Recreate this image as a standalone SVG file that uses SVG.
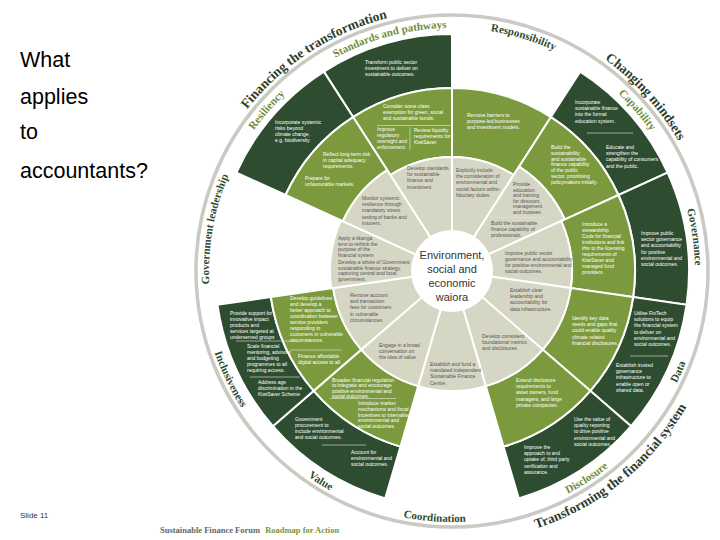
<svg xmlns="http://www.w3.org/2000/svg" width="720" height="540" viewBox="0 0 720 540">
<style>
.light{fill:#d5d6c3;stroke:#fff;stroke-width:2}
.med{fill:#7b9a3d;stroke:#fff;stroke-width:2}
.dark{fill:#2e4c2f;stroke:#fff;stroke-width:2}
.lt{font-family:"Liberation Sans",Arial,sans-serif;font-size:5px;fill:#555}
.wt{font-family:"Liberation Sans",Arial,sans-serif;font-size:5px;fill:#fff}
.div{stroke:#e4e8d6;stroke-width:0.6;fill:none}
.sl{font-family:"Liberation Serif","Times New Roman",serif;font-weight:bold;font-size:11px}
.sd{fill:#2e4c2f}
.so{fill:#6f8d3a}
.big{font-family:"Liberation Serif","Times New Roman",serif;font-weight:bold;font-size:13.5px;fill:#2b3d2c}
.side{font-family:"Liberation Sans",Arial,sans-serif;font-size:21.5px;fill:#000}
.ctr{font-family:"Liberation Sans",Arial,sans-serif;font-size:11px;fill:#333;text-anchor:middle}
</style>
<defs>
<path id="pStd" d="M252.93,131.62 A243,243 0 0 1 554.69,50.77"/>
<path id="pResp" d="M357.06,47.32 A243,243 0 0 1 655.80,138.66"/>
<path id="pCap" d="M490.01,30.99 A243,243 0 0 1 694.95,266.75"/>
<path id="pGov" d="M614.59,90.43 A243,243 0 0 1 658.06,399.77"/>
<path id="pGL" d="M241.56,392.5 A243,243 0 0 1 295.80,84.86"/>
<path id="pRes" d="M209.05,266.75 A243,243 0 0 1 413.99,30.99"/>
<path id="pData" d="M562.04,496.60 A251,251 0 0 0 693.29,201.82"/>
<path id="pDisc" d="M421.40,520.12 A251,251 0 0 0 692.03,344.39"/>
<path id="pCoord" d="M277.63,451.54 A251,251 0 0 0 599.54,474.06"/>
<path id="pVal" d="M213.27,348.56 A251,251 0 0 0 486.94,519.57"/>
<path id="pInc" d="M208.45,210.28 A251,251 0 0 0 349.92,500.29"/>
<path id="pFin" d="M191.37,284.65 A261,261 0 0 1 570.49,38.45"/>
<path id="pChg" d="M488.33,12.53 A261,261 0 0 1 712.84,261.89"/>
<path id="pTrf" d="M400.29,537.01 A271,271 0 0 0 722.95,275.74"/>
</defs>
<rect width="720" height="540" fill="#fff"/>

<g id="side-text">
<text class="side" x="20" y="67">What</text>
<text class="side" x="20" y="104">applies</text>
<text class="side" x="20" y="139">to</text>
<text class="side" x="20" y="178">accountants?</text>
<text x="20" y="518" style="font-family:'Liberation Sans',Arial,sans-serif;font-size:8px;fill:#333">Slide 11</text>
<text x="160" y="533" style="font-family:'Liberation Serif',serif;font-size:8.5px;font-weight:bold"><tspan fill="#666">Sustainable Finance Forum</tspan><tspan fill="#7a9540" dx="5">Roadmap for Action</tspan></text>
</g>

<circle cx="452" cy="271" r="256" fill="none" stroke="#cacac2" stroke-width="3.5"/>

<g id="titles">
<text class="big"><textPath href="#pFin" startOffset="50%" text-anchor="middle">Financing the transformation</textPath></text>
<text class="big"><textPath href="#pChg" startOffset="50%" text-anchor="middle">Changing mindsets</textPath></text>
<text class="big"><textPath href="#pTrf" startOffset="50%" text-anchor="middle">Transforming the financial system</textPath></text>
</g>

<g id="standards">
<path class="dark" d="M323.88,71.61 A237,237 0 0 1 452,34 L452,88 A183,183 0 0 0 353.07,117.04 Z"/>
<path class="med" d="M353.07,117.04 A183,183 0 0 1 452,88 L452,157 A114,114 0 0 0 390.37,175.09 Z"/>
<path class="light" d="M390.37,175.09 A114,114 0 0 1 452,157 L452,231 A40,40 0 0 0 430.38,237.35 Z"/>
<line class="div" x1="377" y1="125.5" x2="451" y2="125.5"/>
<line class="div" x1="410" y1="127" x2="410" y2="150"/>
<text class="sl so"><textPath href="#pStd" startOffset="50%" text-anchor="middle">Standards and pathways</textPath></text>
<text class="wt" x="365" y="64"><tspan x="365">Transform public sector</tspan><tspan x="365" dy="6.2">investment to deliver on</tspan><tspan x="365" dy="6.2">sustainable outcomes.</tspan></text>
<text class="wt" x="383" y="108"><tspan x="383">Consider some class</tspan><tspan x="383" dy="6.2">exemption for green, social</tspan><tspan x="383" dy="6.2">and sustainable bonds.</tspan></text>
<text class="wt" x="377" y="131"><tspan x="377">Improve</tspan><tspan x="377" dy="6">regulatory</tspan><tspan x="377" dy="6">oversight and</tspan><tspan x="377" dy="6">enforcement.</tspan></text>
<text class="wt" x="414" y="132"><tspan x="414">Review liquidity</tspan><tspan x="414" dy="6">requirements for</tspan><tspan x="414" dy="6">KiwiSaver.</tspan></text>
<text class="lt" x="407" y="170"><tspan x="407">Develop standards</tspan><tspan x="407" dy="6.2">for sustainable</tspan><tspan x="407" dy="6.2">finance and</tspan><tspan x="407" dy="6.2">investment.</tspan></text>
</g>

<g id="responsibility">
<path class="med" d="M452,88 A183,183 0 0 1 550.93,117.04 L513.63,175.09 A114,114 0 0 0 452,157 Z"/>
<path class="light" d="M452,157 A114,114 0 0 1 513.63,175.09 L473.62,237.35 A40,40 0 0 0 452,231 Z"/>
<text class="sl sd"><textPath href="#pResp" startOffset="50%" text-anchor="middle">Responsibility</textPath></text>
<text class="wt" x="467" y="117"><tspan x="467">Remove barriers to</tspan><tspan x="467" dy="6.2">purpose-led businesses</tspan><tspan x="467" dy="6.2">and investment models.</tspan></text>
<text class="lt" x="456" y="172"><tspan x="456">Explicitly include</tspan><tspan x="456" dy="6.2">the consideration of</tspan><tspan x="456" dy="6.2">environmental and</tspan><tspan x="456" dy="6.2">social factors within</tspan><tspan x="456" dy="6.2">fiduciary duties.</tspan></text>
</g>

<g id="capability">
<path class="dark" d="M580.12,71.61 A237,237 0 0 1 667.58,172.55 L618.46,194.98 A183,183 0 0 0 550.93,117.04 Z"/>
<path class="med" d="M550.93,117.04 A183,183 0 0 1 618.46,194.98 L564.79,219.49 A124,124 0 0 0 519.03,166.68 Z"/>
<path class="light" d="M519.03,166.68 A124,124 0 0 1 564.79,219.49 L488.38,254.38 A40,40 0 0 0 473.62,237.35 Z"/>
<line class="div" x1="488" y1="217.5" x2="546" y2="217.5"/>
<line class="div" x1="587" y1="133" x2="633" y2="133"/>
<text class="sl so"><textPath href="#pCap" startOffset="50%" text-anchor="middle">Capability</textPath></text>
<text class="lt" x="513" y="186"><tspan x="513">Provide</tspan><tspan x="513" dy="5.6">education</tspan><tspan x="513" dy="5.6">and training</tspan><tspan x="513" dy="5.6">for directors,</tspan><tspan x="513" dy="5.6">management</tspan><tspan x="513" dy="5.6">and trustees.</tspan></text>
<text class="lt" x="491" y="225"><tspan x="491">Build the sustainable</tspan><tspan x="491" dy="6.2">finance capability of</tspan><tspan x="491" dy="6.2">professionals.</tspan></text>
<text class="wt" x="551" y="149"><tspan x="551">Build the</tspan><tspan x="551" dy="5.8">sustainability</tspan><tspan x="551" dy="5.8">and sustainable</tspan><tspan x="551" dy="5.8">finance capability</tspan><tspan x="551" dy="5.8">of the public</tspan><tspan x="551" dy="5.8">sector, prioritising</tspan><tspan x="551" dy="5.8">policymakers initially.</tspan></text>
<text class="wt" x="575" y="104"><tspan x="575">Incorporate</tspan><tspan x="575" dy="6.2">sustainable finance</tspan><tspan x="575" dy="6.2">into the formal</tspan><tspan x="575" dy="6.2">education system.</tspan></text>
<text class="wt" x="606" y="149"><tspan x="606">Educate and</tspan><tspan x="606" dy="6.2">strengthen the</tspan><tspan x="606" dy="6.2">capability of consumers</tspan><tspan x="606" dy="6.2">and the public.</tspan></text>
</g>

<g id="governance">
<path class="dark" d="M667.58,172.55 A237,237 0 0 1 686.58,304.73 L633.13,297.04 A183,183 0 0 0 618.46,194.98 Z"/>
<path class="med" d="M618.46,194.98 A183,183 0 0 1 633.13,297.04 L570.78,288.08 A120,120 0 0 0 561.15,221.15 Z"/>
<path class="light" d="M561.15,221.15 A120,120 0 0 1 570.78,288.08 L491.59,276.69 A40,40 0 0 0 488.38,254.38 Z"/>
<text class="sl sd"><textPath href="#pGov" startOffset="50%" text-anchor="middle">Governance</textPath></text>
<text class="lt" x="505" y="255"><tspan x="505">Improve public sector</tspan><tspan x="505" dy="6">governance and accountability</tspan><tspan x="505" dy="6">for positive environmental and</tspan><tspan x="505" dy="6">social outcomes.</tspan></text>
<text class="wt" x="582" y="226"><tspan x="582">Introduce a</tspan><tspan x="582" dy="6">stewardship</tspan><tspan x="582" dy="6">Code for financial</tspan><tspan x="582" dy="6">institutions and link</tspan><tspan x="582" dy="6">this to the licensing</tspan><tspan x="582" dy="6">requirements of</tspan><tspan x="582" dy="6">KiwiSaver and</tspan><tspan x="582" dy="6">managed fund</tspan><tspan x="582" dy="6">providers.</tspan></text>
<text class="wt" x="641" y="235"><tspan x="641">Improve public</tspan><tspan x="641" dy="6.2">sector governance</tspan><tspan x="641" dy="6.2">and accountability</tspan><tspan x="641" dy="6.2">for positive</tspan><tspan x="641" dy="6.2">environmental and</tspan><tspan x="641" dy="6.2">social outcomes.</tspan></text>
</g>

<g id="data">
<path class="dark" d="M686.58,304.73 A237,237 0 0 1 631.10,426.21 L590.29,390.85 A183,183 0 0 0 633.13,297.04 Z"/>
<path class="med" d="M633.13,297.04 A183,183 0 0 1 590.29,390.85 L542.68,349.59 A120,120 0 0 0 570.78,288.08 Z"/>
<path class="light" d="M570.78,288.08 A120,120 0 0 1 542.68,349.59 L482.23,297.20 A40,40 0 0 0 491.59,276.69 Z"/>
<line class="div" x1="630" y1="356" x2="668" y2="356"/>
<text class="sl sd"><textPath href="#pData" startOffset="50%" text-anchor="middle">Data</textPath></text>
<text class="lt" x="510" y="292"><tspan x="510">Establish clear</tspan><tspan x="510" dy="6.2">leadership and</tspan><tspan x="510" dy="6.2">accountability for</tspan><tspan x="510" dy="6.2">data infrastructure.</tspan></text>
<text class="wt" x="572" y="320"><tspan x="572">Identify key data</tspan><tspan x="572" dy="6.2">needs and gaps that</tspan><tspan x="572" dy="6.2">could enable quality</tspan><tspan x="572" dy="6.2">climate related</tspan><tspan x="572" dy="6.2">financial disclosures.</tspan></text>
<text class="wt" x="634" y="315"><tspan x="634">Utilise FinTech</tspan><tspan x="634" dy="6.2">solutions to equip</tspan><tspan x="634" dy="6.2">the financial system</tspan><tspan x="634" dy="6.2">to deliver on</tspan><tspan x="634" dy="6.2">environmental and</tspan><tspan x="634" dy="6.2">social outcomes.</tspan></text>
<text class="wt" x="616" y="367"><tspan x="616">Establish trusted</tspan><tspan x="616" dy="6.2">governance</tspan><tspan x="616" dy="6.2">infrastructure to</tspan><tspan x="616" dy="6.2">enable open or</tspan><tspan x="616" dy="6.2">shared data.</tspan></text>
</g>

<g id="disclosure">
<path class="dark" d="M631.10,426.21 A237,237 0 0 1 518.76,498.40 L503.55,446.59 A183,183 0 0 0 590.29,390.85 Z"/>
<path class="med" d="M590.29,390.85 A183,183 0 0 1 503.55,446.59 L485.80,386.14 A120,120 0 0 0 542.68,349.59 Z"/>
<path class="light" d="M542.68,349.59 A120,120 0 0 1 485.80,386.14 L463.27,309.38 A40,40 0 0 0 482.23,297.20 Z"/>
<text class="sl so"><textPath href="#pDisc" startOffset="50%" text-anchor="middle">Disclosure</textPath></text>
<text class="lt" x="482" y="338"><tspan x="482">Develop consistent</tspan><tspan x="482" dy="6.2">foundational metrics</tspan><tspan x="482" dy="6.2">and disclosures.</tspan></text>
<text class="wt" x="516" y="382"><tspan x="516">Extend disclosure</tspan><tspan x="516" dy="6.2">requirements to</tspan><tspan x="516" dy="6.2">asset owners, fund</tspan><tspan x="516" dy="6.2">managers, and large</tspan><tspan x="516" dy="6.2">private companies.</tspan></text>
<text class="wt" x="574" y="421"><tspan x="574">Use the value of</tspan><tspan x="574" dy="6.2">quality reporting</tspan><tspan x="574" dy="6.2">to drive positive</tspan><tspan x="574" dy="6.2">environmental and</tspan><tspan x="574" dy="6.2">social outcomes.</tspan></text>
<text class="wt" x="524" y="449"><tspan x="524">Improve the</tspan><tspan x="524" dy="6.2">approach to and</tspan><tspan x="524" dy="6.2">uptake of, third party</tspan><tspan x="524" dy="6.2">verification and</tspan><tspan x="524" dy="6.2">assurance.</tspan></text>
</g>

<g id="coordination">
<path class="light" d="M485.80,386.14 A120,120 0 0 1 418.20,386.14 L440.73,309.38 A40,40 0 0 0 463.27,309.38 Z"/>
<text class="sl sd"><textPath href="#pCoord" startOffset="50%" text-anchor="middle">Coordination</textPath></text>
<text class="lt" x="430" y="366"><tspan x="430">Establish and fund a</tspan><tspan x="430" dy="6.2">mandated independent</tspan><tspan x="430" dy="6.2">Sustainable Finance</tspan><tspan x="430" dy="6.2">Centre.</tspan></text>
</g>

<g id="value">
<path class="dark" d="M385.24,498.40 A237,237 0 0 1 272.90,426.21 L313.71,390.85 A183,183 0 0 0 400.45,446.59 Z"/>
<path class="med" d="M400.45,446.59 A183,183 0 0 1 313.71,390.85 L361.32,349.59 A120,120 0 0 0 418.20,386.14 Z"/>
<path class="light" d="M418.20,386.14 A120,120 0 0 1 361.32,349.59 L421.77,297.20 A40,40 0 0 0 440.73,309.38 Z"/>
<line class="div" x1="330" y1="398.5" x2="396" y2="398.5"/>
<line class="div" x1="322" y1="445" x2="366" y2="445"/>
<text class="sl sd"><textPath href="#pVal" startOffset="50%" text-anchor="middle">Value</textPath></text>
<text class="lt" x="379" y="347"><tspan x="379">Engage in a broad</tspan><tspan x="379" dy="6.2">conversation on</tspan><tspan x="379" dy="6.2">the idea of value</tspan></text>
<text class="wt" x="332" y="382"><tspan x="332">Broaden financial regulation</tspan><tspan x="332" dy="5.4">to integrate and encourage</tspan><tspan x="332" dy="5.4">positive environmental and</tspan><tspan x="332" dy="5.4">social outcomes.</tspan></text>
<text class="wt" x="358" y="405"><tspan x="358">Introduce market</tspan><tspan x="358" dy="5.8">mechanisms and fiscal</tspan><tspan x="358" dy="5.8">incentives to internalise</tspan><tspan x="358" dy="5.8">environmental and</tspan><tspan x="358" dy="5.8">social outcomes.</tspan></text>
<text class="wt" x="295" y="421"><tspan x="295">Government</tspan><tspan x="295" dy="6">procurement to</tspan><tspan x="295" dy="6">include environmental</tspan><tspan x="295" dy="6">and social outcomes.</tspan></text>
<text class="wt" x="351" y="454"><tspan x="351">Account for</tspan><tspan x="351" dy="6">environmental and</tspan><tspan x="351" dy="6">social outcomes.</tspan></text>
</g>

<g id="inclusiveness">
<path class="dark" d="M272.90,426.21 A237,237 0 0 1 217.42,304.73 L270.87,297.04 A183,183 0 0 0 313.71,390.85 Z"/>
<path class="med" d="M313.71,390.85 A183,183 0 0 1 270.87,297.04 L333.22,288.08 A120,120 0 0 0 361.32,349.59 Z"/>
<path class="light" d="M361.32,349.59 A120,120 0 0 1 333.22,288.08 L412.41,276.69 A40,40 0 0 0 421.77,297.20 Z"/>
<line class="div" x1="290" y1="350" x2="342" y2="350"/>
<line class="div" x1="236" y1="341" x2="298" y2="341"/>
<line class="div" x1="250" y1="377" x2="300" y2="377"/>
<text class="sl sd"><textPath href="#pInc" startOffset="50%" text-anchor="middle">Inclusiveness</textPath></text>
<text class="lt" x="350" y="297"><tspan x="350">Remove account</tspan><tspan x="350" dy="6.2">and transaction</tspan><tspan x="350" dy="6.2">fees for customers</tspan><tspan x="350" dy="6.2">in vulnerable</tspan><tspan x="350" dy="6.2">circumstances.</tspan></text>
<text class="wt" x="290" y="300"><tspan x="290">Develop guidelines</tspan><tspan x="290" dy="6">and develop a</tspan><tspan x="290" dy="6">better approach to</tspan><tspan x="290" dy="6">coordination between</tspan><tspan x="290" dy="6">service providers</tspan><tspan x="290" dy="6">responding to</tspan><tspan x="290" dy="6">customers in vulnerable</tspan><tspan x="290" dy="6">circumstances.</tspan></text>
<text class="wt" x="298" y="358"><tspan x="298">Finance affordable</tspan><tspan x="298" dy="6.2">digital access to all.</tspan></text>
<text class="wt" x="230" y="315"><tspan x="230">Provide support for</tspan><tspan x="230" dy="6">innovative impact</tspan><tspan x="230" dy="6">products and</tspan><tspan x="230" dy="6">services targeted at</tspan><tspan x="230" dy="6">underserved groups</tspan></text>
<text class="wt" x="247" y="348"><tspan x="247">Scale financial</tspan><tspan x="247" dy="6">mentoring, advisory</tspan><tspan x="247" dy="6">and budgeting</tspan><tspan x="247" dy="6">programmes to all</tspan><tspan x="247" dy="6">requiring access.</tspan></text>
<text class="wt" x="258" y="384"><tspan x="258">Address age</tspan><tspan x="258" dy="6">discrimination in the</tspan><tspan x="258" dy="6">KiwiSaver Scheme</tspan></text>
</g>

<g id="government-leadership">
<path class="light" d="M331.24,288.36 A122,122 0 0 1 341.03,220.32 L415.62,254.38 A40,40 0 0 0 412.41,276.69 Z"/>
<text class="sl sd"><textPath href="#pGL" startOffset="50%" text-anchor="middle">Government leadership</textPath></text>
<text class="lt" x="338" y="240"><tspan x="338">Apply a tikanga</tspan><tspan x="338" dy="5.6">lens to rethink the</tspan><tspan x="338" dy="5.6">purpose of the</tspan><tspan x="338" dy="5.6">financial system</tspan></text>
<text class="lt" x="338" y="264"><tspan x="338">Develop a whole of Government</tspan><tspan x="338" dy="5.6">sustainable finance strategy,</tspan><tspan x="338" dy="5.6">capturing central and local</tspan><tspan x="338" dy="5.6">government.</tspan></text>
</g>

<g id="resiliency">
<path class="dark" d="M236.42,172.55 A237,237 0 0 1 323.88,71.61 L353.07,117.04 A183,183 0 0 0 285.54,194.98 Z"/>
<path class="med" d="M285.54,194.98 A183,183 0 0 1 353.07,117.04 L387.13,170.04 A120,120 0 0 0 342.85,221.15 Z"/>
<path class="light" d="M342.85,221.15 A120,120 0 0 1 387.13,170.04 L430.38,237.35 A40,40 0 0 0 415.62,254.38 Z"/>
<text class="sl so"><textPath href="#pRes" startOffset="50%" text-anchor="middle">Resiliency</textPath></text>
<text class="lt" x="362" y="200"><tspan x="362">Monitor systemic</tspan><tspan x="362" dy="6.2">resilience through</tspan><tspan x="362" dy="6.2">mandatory stress</tspan><tspan x="362" dy="6.2">testing of banks and</tspan><tspan x="362" dy="6.2">insurers.</tspan></text>
<text class="wt" x="323" y="156"><tspan x="323">Reflect long-term risk</tspan><tspan x="323" dy="6.2">in capital adequacy</tspan><tspan x="323" dy="6.2">requirements.</tspan></text>
<text class="wt" x="305" y="180"><tspan x="305">Prepare for</tspan><tspan x="305" dy="6.2">unfavourable markets.</tspan></text>
<text class="wt" x="275" y="124"><tspan x="275">Incorporate systemic</tspan><tspan x="275" dy="6">risks beyond</tspan><tspan x="275" dy="6">climate change,</tspan><tspan x="275" dy="6">e.g. biodiversity</tspan></text>
</g>

<g id="centre">
<circle cx="452" cy="271" r="40" fill="#fff"/>
<text class="ctr" x="452" y="259">Environment,</text>
<text class="ctr" x="452" y="273">social and</text>
<text class="ctr" x="452" y="287">economic</text>
<text class="ctr" x="452" y="301">waiora</text>
</g>
</svg>
